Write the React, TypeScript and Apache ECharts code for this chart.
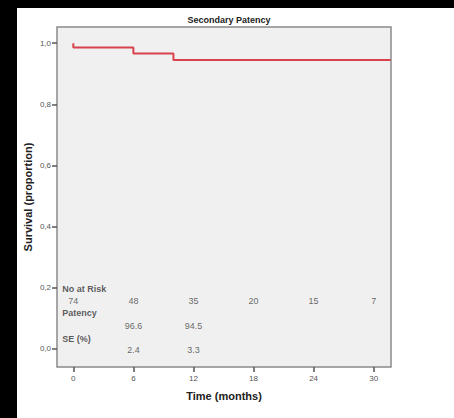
import React, { useEffect, useRef } from "react";
import * as echarts from "echarts";

// Kaplan–Meier step curve (time in months, survival proportion)
const kmTimes = [0, 0, 6, 10, 31.7];
const kmSurvival = [1.0, 0.986, 0.966, 0.945, 0.945];

// Tick values
const xTicks = [0, 6, 12, 18, 24, 30];
const yTicks = [0, 0.2, 0.4, 0.6, 0.8, 1.0];

// Risk table
const riskTimes = [0, 6, 12, 18, 24, 30];
const atRisk = [74, 48, 35, 20, 15, 7];
const patencyTimes = [6, 12];
const patencyValues = ["96.6", "94.5"];
const seValues = ["2.4", "3.3"];
const rowLabels = ["No at Risk", "Patency", "SE (%)"];

export default function App() {
  const ref = useRef<HTMLDivElement>(null);

  useEffect(() => {
    if (!ref.current) return;
    const chart = echarts.init(ref.current, undefined, { renderer: "svg" });

    const font = "Liberation Sans, Arial, sans-serif";
    const rowLabelY = [0.196, 0.117, 0.033];
    const rowValueY = [0.157, 0.075, -0.003];
    const rowLabelX = -1.1;

    const textData: any[] = [];
    rowLabels.forEach((t, i) => {
      textData.push({
        value: [rowLabelX, rowLabelY[i]],
        label: { formatter: t, align: "left", fontWeight: "bold", color: "#333" },
      });
    });
    riskTimes.forEach((t, i) => {
      textData.push({ value: [t, rowValueY[0]], label: { formatter: String(atRisk[i]) } });
    });
    patencyTimes.forEach((t, i) => {
      textData.push({ value: [t, rowValueY[1]], label: { formatter: patencyValues[i] } });
      textData.push({ value: [t, rowValueY[2]], label: { formatter: seValues[i] } });
    });

    chart.setOption({
      animation: false,
      backgroundColor: "#ffffff",
      title: {
        text: "Secondary Patency",
        left: 224,
        textAlign: "center",
        top: 10,
        textStyle: { fontFamily: font, fontSize: 9, fontWeight: "bold", color: "#222" },
      },
      grid: {
        left: 57,
        top: 27,
        right: 63,
        bottom: 51,
        show: true,
        backgroundColor: "#f0f0f0",
        borderColor: "#8a8a8a",
        borderWidth: 1.5,
      },
      xAxis: {
        type: "value",
        min: -1.63,
        max: 31.73,
        name: "Time (months)",
        nameLocation: "middle",
        nameGap: 23,
        nameMoveOverlap: false,
        nameTextStyle: { fontFamily: font, fontSize: 11, fontWeight: "bold", color: "#222" },
        axisLine: { show: false, onZero: false },
        splitLine: { show: false },
        axisTick: {
          show: true,
          customValues: xTicks,
          length: 5,
          lineStyle: { color: "#555", width: 1.5 },
        },
        axisLabel: {
          customValues: xTicks,
          margin: 7,
          fontFamily: font,
          fontSize: 8,
          color: "#555",
        },
      },
      yAxis: {
        type: "value",
        min: -0.059,
        max: 1.053,
        name: "Survival (proportion)",
        nameLocation: "middle",
        nameGap: 24,
        nameMoveOverlap: false,
        nameTextStyle: { fontFamily: font, fontSize: 11, fontWeight: "bold", color: "#222" },
        axisLine: { show: false, onZero: false },
        splitLine: { show: false },
        axisTick: {
          show: true,
          customValues: yTicks,
          length: 5,
          lineStyle: { color: "#555", width: 1.5 },
        },
        axisLabel: {
          customValues: yTicks,
          margin: 6,
          fontFamily: font,
          fontSize: 8,
          color: "#555",
          formatter: (v: number) => v.toFixed(1).replace(".", ","),
        },
      },
      graphic: [
        { type: "rect", shape: { x: 0, y: 0, width: 454, height: 8 }, style: { fill: "#000" }, z: 100 },
        { type: "rect", shape: { x: 0, y: 0, width: 17, height: 418 }, style: { fill: "#000" }, z: 100 },
      ],
      series: [
        {
          type: "line",
          step: "end",
          data: kmTimes.map((t, i) => [t, kmSurvival[i]]),
          showSymbol: false,
          symbol: "none",
          lineStyle: { color: "#d8424c", width: 2 },
          silent: true,
        },
        {
          type: "scatter",
          data: textData,
          symbolSize: 1,
          itemStyle: { color: "rgba(0,0,0,0)" },
          silent: true,
          label: {
            show: true,
            position: "inside",
            fontFamily: font,
            fontSize: 9,
            color: "#444",
          },
        },
      ],
    });

    return () => chart.dispose();
  }, []);

  return (
    <div
      ref={ref}
      style={{ position: "fixed", left: 0, top: 0, width: 454, height: 418 }}
    />
  );
}
